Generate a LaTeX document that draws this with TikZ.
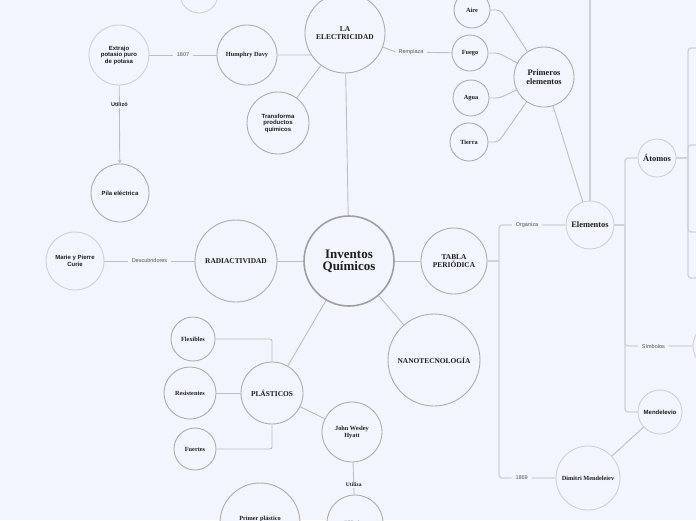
\documentclass[tikz,border=0pt]{standalone}
\usepackage{fontspec}
\setmainfont{Liberation Serif}
\setsansfont{Liberation Sans}
\usepackage{xcolor}
\usepackage{tikz}
\usetikzlibrary{arrows.meta,calc}
\definecolor{mmback}{HTML}{F2F5FE}
\definecolor{mmring}{HTML}{ADADAD}
\definecolor{mmringsoft}{HTML}{D0D0D3}
\definecolor{mmline}{HTML}{BEBEBE}
\definecolor{mmlinesoft}{HTML}{D0D2D7}
\definecolor{mmtext}{HTML}{1E1E1E}
\definecolor{mmmuted}{HTML}{555555}
\tikzset{
  mbubble/.style={circle,draw=mmring,line width=0.9pt,fill=mmback,inner sep=0pt,
    align=center,text=mmtext},
  mroot/.style={mbubble,line width=1.6pt,draw=mmring!92!black,minimum size=90pt,
    font=\bfseries\fontsize{13}{12}\selectfont},
  mtopic/.style={mbubble,font=\bfseries\fontsize{7.4}{8}\selectfont},
  mbig/.style={mbubble,font=\bfseries\fontsize{8.4}{8.6}\selectfont},
  mserif/.style={mbubble,font=\bfseries\fontsize{6.3}{7}\selectfont},
  msans/.style={mbubble,font=\sffamily\bfseries\fontsize{6}{6.5}\selectfont},
  msoft/.style={draw=mmringsoft},
  mlabel/.style={fill=mmback,inner xsep=4pt,inner ysep=1pt,
    font=\sffamily\fontsize{5.5}{6}\selectfont,text=mmmuted},
  link/.style={draw=mmline,line width=0.9pt},
  trunk/.style={draw=mmlinesoft,line width=1.4pt,rounded corners=3pt}
}

\begin{document}
\begin{tikzpicture}[x=1pt,y=-1pt]
  \fill[mmback] (0,0) rectangle (696,520);
  \useasboundingbox (0,0) rectangle (696,520);

  \node[mroot] (inv) at (349,261) {Inventos\\Químicos};
  \node[mtopic,minimum size=80pt] (elec) at (345,33) {LA\\ELECTRICIDAD};
  \node[mserif,minimum size=60pt] (davy) at (247,55) {Humphry Davy};
  \node[msans,msoft,minimum size=60pt] (extrajo) at (119,55) {Extrajo\\potasio puro\\de potasa};
  \node[msans,minimum size=58pt] (pila) at (120,193) {Pila eléctrica};
  \node[msans,minimum size=62pt] (transf) at (278,123) {Transforma\\productos\\químicos};
  \node[mbubble,msoft,minimum size=38pt] (topc) at (199,-6) {};
  \node[mbig,minimum size=60pt] (prim) at (544,77) {Primeros\\elementos};
  \node[mserif,minimum size=36pt] (aire) at (472,10) {Aire};
  \node[mserif,minimum size=36pt] (fuego) at (470,53) {Fuego};
  \node[mserif,minimum size=36pt] (agua) at (471,98) {Agua};
  \node[mserif,minimum size=38pt] (tierra) at (469,142) {Tierra};
  \node[mbig,msoft,minimum size=48pt] (elem) at (590,225) {Elementos};
  \node[mbig,msoft,minimum size=38pt] (atom) at (657,158) {Átomos};
  \node[mbubble,msoft,minimum size=46pt] (simb) at (716,346) {};
  \node[msans,msoft,minimum size=44pt] (mendel) at (660,412) {Mendelevio};
  \node[mserif,msoft,minimum size=64pt] (dimitri) at (588,478) {Dimitri Mendeleiev};
  \node[mtopic,minimum size=66pt] (tabla) at (454,261) {TABLA\\PERIÓDICA};
  \node[mtopic,minimum size=92pt] (nano) at (434,360) {NANOTECNOLOGÍA};
  \node[mtopic,minimum size=82pt] (radia) at (236,261) {RADIACTIVIDAD};
  \node[msans,msoft,minimum size=58pt] (marie) at (75,261) {Marie y Pierre\\Curie};
  \node[mtopic,minimum size=62pt] (plast) at (272,393) {PLÁSTICOS};
  \node[mserif,minimum size=44pt] (flex) at (193,339) {Flexibles};
  \node[mserif,minimum size=52pt] (resist) at (190,393) {Resistentes};
  \node[mserif,minimum size=42pt] (fuertes) at (195,449) {Fuertes};
  \node[mserif,minimum size=60pt] (john) at (352,432) {John Wesley\\Hyatt};
  \node[mserif,minimum size=80pt] (primer) at (260,523) {Primer plástico\\\strut};
  \node[mserif,minimum size=56pt] (plastico) at (355,523) {Plástico};

  \coordinate (rjoin) at (396,52);
  \coordinate (tjoin) at (499,261);
  \coordinate (ejoin) at (625,225);
  \coordinate (etop) at (590,-6);
  \coordinate (ajoin) at (688,158);
  \coordinate (at1) at (702,48);
  \coordinate (at2) at (702,145);
  \coordinate (at3) at (702,232);
  \coordinate (at4) at (702,278);

  \draw[link] (inv) -- (elec);
  \draw[link] (inv) -- (radia);
  \draw[link] (inv) -- (tabla);
  \draw[link] (inv) -- (plast);
  \draw[link] (inv) -- (nano);
  \draw[link] (davy) -- (elec.213);
  \draw[link] (extrajo) -- node[mlabel]{1807} (davy);
  \draw[link,-{Stealth[length=4pt,width=4pt]}] (extrajo) -- node[mlabel,pos=0.25,
    font=\sffamily\bfseries\fontsize{5.5}{6}\selectfont,text=mmtext]{Utilizó} (pila);
  \draw[link] (elec) -- (transf);
  \draw[link] (elec) -- (rjoin) -- node[mlabel,pos=0.27]{Remplaza} (fuego);
  \foreach \n in {aire,fuego,agua,tierra}
    \draw[link,rounded corners=4pt] (\n.east) -- ++(10,0) -- (prim);
  \draw[link] (prim) -- (elem);
  \draw[trunk] (elem) -- (etop);
  \draw[trunk] (tabla) -- (tjoin);
  \draw[trunk] (tjoin) |- node[mlabel,pos=0.71]{Organiza} (elem);
  \draw[trunk] (tjoin) |- node[mlabel,pos=0.7]{1869} (dimitri);
  \draw[trunk] (elem) -- (ejoin);
  \draw[trunk] (ejoin) |- (atom);
  \draw[trunk] (ejoin) |- node[mlabel,pos=0.71]{Símbolos} (simb);
  \draw[trunk] (ejoin) |- (mendel);
  \draw[trunk] (atom) -- (ajoin);
  \foreach \c in {at1,at2,at3,at4}
    \draw[trunk] (ajoin) |- (\c);
  \draw[link] (dimitri) -- (mendel);
  \draw[link] (marie) -- node[mlabel]{Descubridores} (radia);
  \draw[link,rounded corners=2pt] (flex) -| (plast);
  \draw[link] (resist) -- (plast);
  \draw[link,rounded corners=2pt] (fuertes) -| (plast);
  \draw[link] (plast) -- (john);
  \draw[link] (john) -- node[mlabel,pos=0.7,
    font=\bfseries\fontsize{5.5}{6}\selectfont,text=mmtext]{Utiliza} (plastico);
\end{tikzpicture}
\end{document}
